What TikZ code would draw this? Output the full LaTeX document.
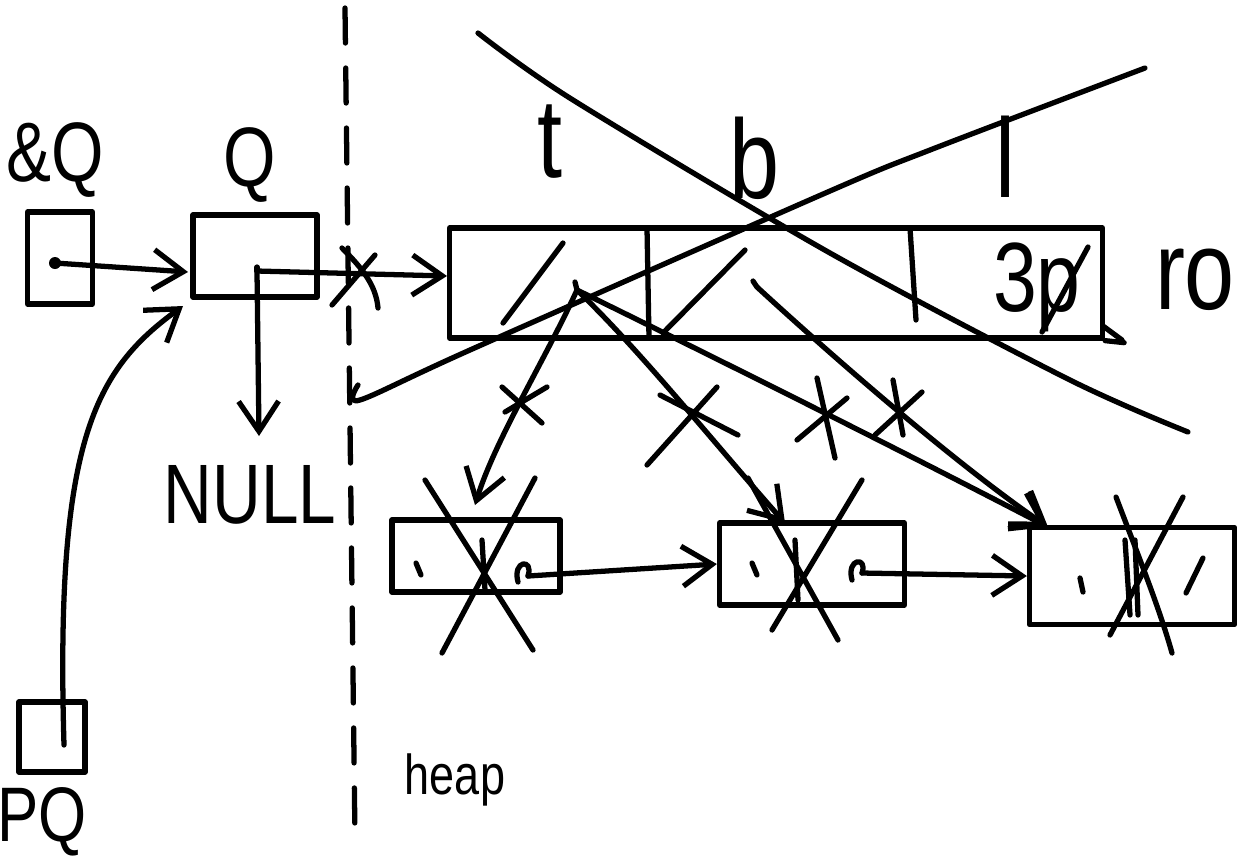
\documentclass[tikz,border=0pt]{standalone}
\usepackage{fontspec}
\setmainfont{Liberation Sans}[FakeStretch=0.8]
\usetikzlibrary{positioning}
\usetikzlibrary{arrows.meta}
\tikzset{cell/.style = {draw, rectangle, inner sep = 0}}
\tikzset{ptr/.style = {-{Straight Barb[length=3mm,width=4mm]}}}
\tikzset{hand/.style = {inner sep = 0}}
\tikzset{every picture/.style={
    every path/.style={line width=1.5pt, line cap=round, line join=round},
}}

\begin{document}
\begin{tikzpicture}[x=0.1mm, y=-0.1mm]
    \useasboundingbox (0,0) rectangle (1257,867);
    % stack side
    \node[cell, minimum width=6.5mm, minimum height=9.2mm] (aqbox) at (60,258) {};
    \node[cell, minimum width=12.4mm, minimum height=8.2mm] (qbox) at (255,256) {};
    \node[cell, minimum width=6.6mm, minimum height=7mm] (pqbox) at (52,737) {};
    \node[hand, font=\fontsize{24}{28}\selectfont] (aq) at (55,160) {\&Q};
    \node[hand, font=\fontsize{24}{28}\selectfont] (q) at (250,165) {Q};
    \node[hand, font=\fontsize{22}{26}\selectfont] (pq) at (42,822) {PQ};
    \node[hand, font=\fontsize{24}{28}\selectfont] (null) at (250,495) {NULL};
    \coordinate (aqdot) at (55,263);
    \coordinate (qin) at (188,272);
    \coordinate (qdot) at (257,271);
    \coordinate (nullin) at (259,436);
    \coordinate (pqdot) at (64,745);
    \coordinate (qlow) at (183,306);
    \fill (aqdot) circle (6);
    \draw[ptr] (aqdot) -- (qin);
    \draw (qdot) -- ++(0,-4);
    \draw[ptr] (qdot) -- (nullin);
    \draw[ptr] (pqdot) .. controls (55,440) and (95,370) .. (qlow);

    % dashed border between stack and heap
    \draw[dash pattern=on 3.5mm off 2.5mm] (345,8) -- (355,840);
    \node[hand, font=\fontsize{16}{20}\selectfont] (heap) at (455,780) {heap};

    % the array
    \node[cell, minimum width=65.3mm, minimum height=11mm] (arr) at (776,283) {};
    \coordinate (arrin) at (447,276);
    \draw[ptr] (qdot) -- (arrin);
    \draw (342,248) .. controls (362,268) and (376,285) .. (378,308);
    \draw (375,255) -- (332,305);
    \draw (647,228) -- (649,338);
    \draw (910,228) -- (916,320);
    \draw (arr.south east) -- ++(19,2);
    \draw (1103,326) -- (1122,340);
    \draw (563,243) -- (503,323);
    \draw (745,250) -- (663,333);
    \node[hand, font=\fontsize{32}{36}\selectfont] (t) at (550,142) {t};
    \node[hand, font=\fontsize{32}{36}\selectfont] (b) at (755,158) {b};
    \node[hand, font=\fontsize{32}{36}\selectfont] (l) at (1005,157) {l};
    \node[hand, font=\fontsize{28}{32}\selectfont] (tp) at (1037,287) {3p};
    \draw (1088,247) -- (1042,332);
    \node[hand, font=\fontsize{32}{36}\selectfont] (ro) at (1195,280) {ro};
    % array crossed out
    \draw plot [smooth] coordinates {(478,33) (573,100) (830,253) (1070,380) (1188,432)};
    \draw plot [smooth] coordinates {(358,385) (360,400) (470,350) (830,191) (930,150) (1145,68)};

    % list nodes
    \node[cell, minimum width=16.8mm, minimum height=7.2mm] (n1) at (476,556) {};
    \node[cell, minimum width=18.5mm, minimum height=8.2mm] (n2) at (812,564) {};
    \node[cell, minimum width=20.5mm, minimum height=9.7mm] (n3) at (1132,576) {};
    \coordinate (n1in) at (475,505);
    \coordinate (n2in) at (785,523);
    \coordinate (n3in) at (1048,527);
    \coordinate (n1p) at (528,576);
    \coordinate (n2p) at (862,573);
    \draw (482,540) -- (485,590);
    \draw (795,540) -- (798,600);
    \draw (1125,540) -- (1130,615) (1135,540) -- (1138,615);
    \draw (416,563) -- (421,575);
    \draw (752,563) -- (757,575);
    \draw (1080,578) -- (1083,592);
    \draw (1186,593) -- (1203,558);
    \draw (518,582) .. controls (512,560) and (534,558) .. (n1p);
    \draw (852,580) .. controls (846,558) and (868,556) .. (n2p);
    \draw[ptr] (n1p) -- (n2.west);
    \draw[ptr] (n2p) -- (n3.west);
    % nodes crossed out
    \draw (425,480) -- (533,650) (535,478) -- (442,653);
    \draw (748,478) -- (838,640) (862,480) -- (772,630);
    \draw (1116,497) .. controls (1140,560) and (1160,610) .. (1172,653);
    \draw (1183,497) -- (1110,635);

    % pointers out of the array
    \coordinate (p0) at (577,290);
    \coordinate (p1) at (757,287);
    \draw (p0) -- ++(-2,-8);
    \draw (p1) -- ++(-4,-6);
    \draw[ptr] (p0) .. controls (545,360) and (495,440) .. (n1in);
    \draw[ptr] (p0) .. controls (640,350) and (720,450) .. (n2in);
    \draw[ptr] (p0) .. controls (720,360) and (900,450) .. (n3in);
    \draw[ptr] (p1) .. controls (820,345) and (950,460) .. (n3in);
    % struck pointers
    \draw (502,387) -- (542,423) (547,387) -- (505,412);
    \draw (660,395) -- (738,435) (717,387) -- (647,465);
    \draw (817,378) -- (835,458) (847,398) -- (797,440);
    \draw (893,380) -- (903,435) (922,392) -- (875,435);
\end{tikzpicture}
\end{document}
